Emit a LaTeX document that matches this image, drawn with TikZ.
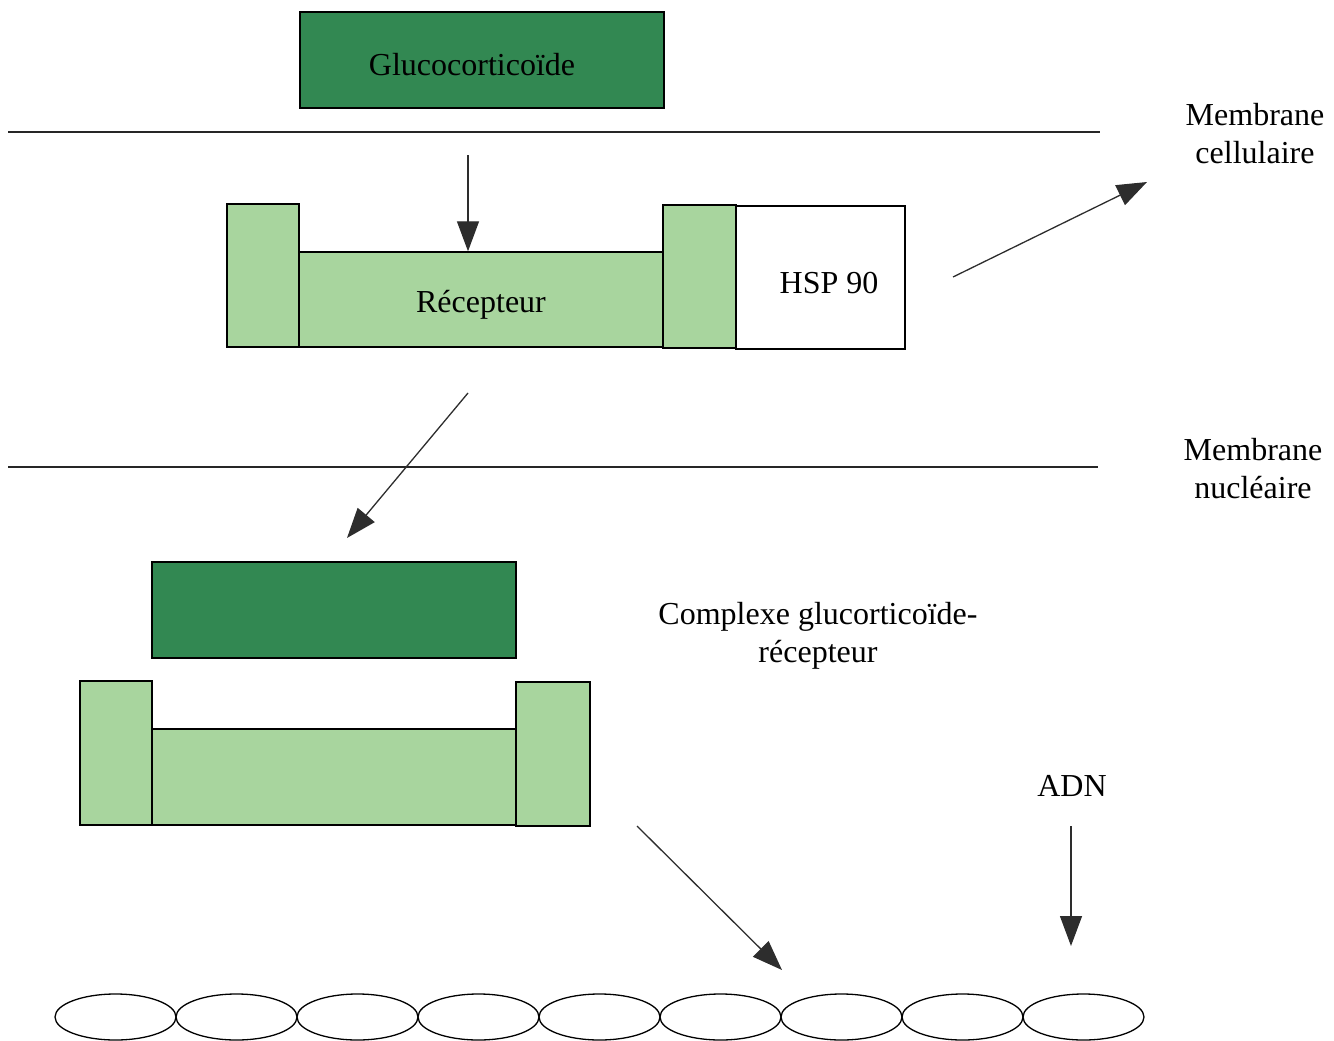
\documentclass[tikz,border=0pt]{standalone}
\usepackage{fontspec}
\setmainfont{Liberation Serif}
\usetikzlibrary{arrows.meta,shapes.geometric}
\definecolor{hormone}{RGB}{50,136,82}
\definecolor{recgreen}{RGB}{168,213,158}
\definecolor{tipgray}{RGB}{45,45,45}
\tikzset{
  block/.style={draw=black, line width=1.4pt, rectangle, inner sep=0pt},
  hormbox/.style={block, fill=hormone, minimum width=364pt, minimum height=96pt},
  sidebox/.style={block, fill=recgreen, minimum width=72pt, minimum height=143pt},
  midbox/.style={block, fill=recgreen, minimum width=364pt, minimum height=95pt},
  lbl/.style={align=center, inner sep=0pt, font=\fontsize{32}{38}\selectfont},
  flow/.style={draw=tipgray, line width=1.3pt, -{Triangle[length=30pt,width=22pt]}},
  membrane/.style={draw=black!85, line width=1.3pt},
  base/.style={draw=black, line width=1.3pt, ellipse, inner sep=0pt, minimum width=121pt, minimum height=46pt}
}
\begin{document}
\begin{tikzpicture}[x=1pt,y=-1pt]
  \useasboundingbox (0,0) rectangle (1334,1041);

  % hormone outside the cell
  \node[hormbox] (gluco) at (482,60) {};
  \node[lbl] (glucolabel) at (472,65) {Glucocorticoïde};

  % cell membrane
  \coordinate (cm1) at (8,132);
  \coordinate (cm2) at (1100,132);
  \draw[membrane] (cm1) -- (cm2);
  \node[lbl] (cmlabel) at (1255,134) {Membrane\\cellulaire};

  % receptor bound to HSP 90
  \node[sidebox] (recL) at (263,275.5) {};
  \node[midbox] (recM) at (481,299.5) {};
  \node[lbl] (reclabel) at (481,305) {Récepteur};
  \node[sidebox, minimum width=73pt] (recR) at (699.5,276.5) {};
  \node[block, fill=white, minimum width=169pt, minimum height=143pt] (hsp) at (820.5,277.5) {};
  \node[lbl] (hsplabel) at (829,283) {HSP 90};

  % hormone entering the receptor
  \coordinate (in1) at (468,155);
  \draw[flow] (in1) -- (in1 |- recM.north);

  % HSP 90 released
  \coordinate (out1) at (953,277);
  \coordinate (out2) at (1147,182);
  \draw[flow] (out1) -- (out2);

  % nuclear membrane
  \coordinate (nm1) at (8,467);
  \coordinate (nm2) at (1098,467);
  \draw[membrane] (nm1) -- (nm2);
  \node[lbl] (nmlabel) at (1253,469) {Membrane\\nucléaire};

  % translocation into the nucleus
  \coordinate (tr1) at (468,393);
  \coordinate (tr2) at (347,538);
  \draw[flow] (tr1) -- (tr2);

  % hormone-receptor complex
  \node[hormbox] (cgluco) at (334,610) {};
  \node[sidebox, minimum height=144pt] (cL) at (116,753) {};
  \node[midbox, minimum height=96pt] (cM) at (334,777) {};
  \node[sidebox, minimum width=74pt, minimum height=144pt] (cR) at (553,754) {};
  \node[lbl] (cxlabel) at (818,636) {Complexe glucorticoïde-\\récepteur};

  % binding to DNA
  \coordinate (bd1) at (637,826);
  \coordinate (bd2) at (782,970);
  \draw[flow] (bd1) -- (bd2);

  \node[lbl] (adn) at (1072,786) {ADN};
  \coordinate (ad1) at (1071,826);
  \coordinate (ad2) at (1071,946);
  \draw[flow] (ad1) -- (ad2);

  % DNA strand
  \foreach \i in {0,...,8} {
    \node[base] (dna\i) at ({115.5+121*\i},1017) {};
  }
\end{tikzpicture}
\end{document}
